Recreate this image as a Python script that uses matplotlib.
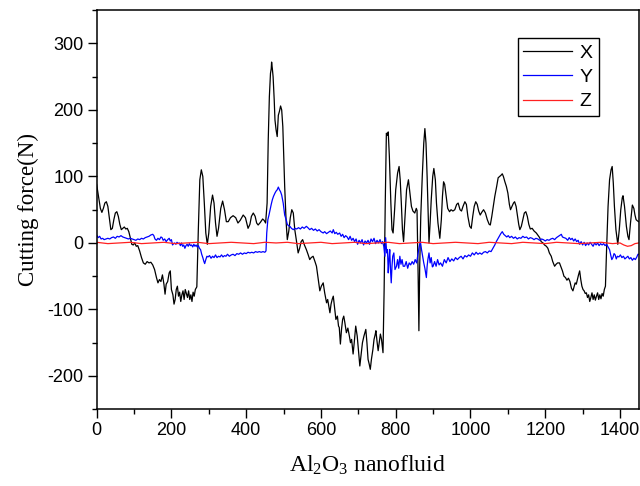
"""Cutting force components (X, Y, Z) for Al2O3 nanofluid."""

import matplotlib

matplotlib.use("Agg")
import matplotlib.pyplot as plt
from matplotlib.ticker import MultipleLocator

# --- data ------------------------------------------------------------------
X_T = [0, 5, 10, 14, 18, 22, 26, 30, 34, 38, 42, 46, 50, 54, 58, 62, 66, 70, 74, 78,
       82, 86, 90, 94, 98, 102, 106, 110, 115, 120, 125, 130, 135, 140, 145, 150, 155,
       160, 164, 168, 172, 176, 180, 183, 186, 190, 194, 197, 200, 204, 207, 210, 213,
       216, 219, 222, 225, 228, 231, 234, 237, 240, 243, 246, 249, 252, 255, 258, 261,
       264, 268, 272, 276, 280, 284, 288, 292, 296, 300, 305, 310, 314, 318, 322, 326,
       332, 337, 342, 347, 352, 358, 365, 372, 378, 384, 392, 398, 405, 410, 414, 419,
       424, 428, 432, 438, 444, 448, 452, 456, 459, 462, 465, 467, 468, 470, 472, 475,
       477, 480, 483, 486, 489, 492, 495, 498, 503, 507, 510, 514, 518, 522, 526, 530,
       534, 539, 543, 547, 551, 555, 561, 566, 570, 574, 579, 584, 588, 592, 597, 601,
       606, 610, 615, 618, 621, 624, 627, 630, 633, 636, 640, 644, 647, 649, 652, 655,
       658, 661, 664, 668, 672, 676, 679, 682, 686, 689, 693, 697, 700, 704, 707, 711,
       715, 720, 723, 726, 729, 732, 735, 739, 742, 745, 747, 750, 753, 756, 759, 762,
       766, 769, 772, 775, 778, 780, 783, 787, 790, 793, 797, 800, 805, 809, 812, 815,
       818, 821, 825, 829, 834, 838, 842, 846, 851, 855, 857, 860, 862, 864, 867, 871,
       875, 878, 881, 884, 887, 889, 892, 895, 899, 902, 906, 909, 913, 918, 922, 925,
       928, 931, 935, 939, 944, 948, 953, 958, 963, 967, 972, 976, 980, 985, 989, 993,
       998, 1002, 1006, 1010, 1014, 1018, 1022, 1026, 1030, 1035, 1040, 1045, 1050,
       1053, 1057, 1061, 1065, 1070, 1074, 1078, 1082, 1085, 1088, 1092, 1096, 1100,
       1104, 1107, 1111, 1115, 1118, 1122, 1126, 1129, 1132, 1136, 1140, 1144, 1148,
       1152, 1156, 1160, 1165, 1170, 1176, 1180, 1185, 1189, 1194, 1198, 1203, 1207,
       1211, 1216, 1220, 1225, 1229, 1233, 1238, 1242, 1246, 1250, 1254, 1258, 1262,
       1266, 1270, 1274, 1277, 1280, 1283, 1286, 1289, 1292, 1295, 1298, 1301, 1304,
       1307, 1310, 1313, 1316, 1319, 1322, 1325, 1328, 1331, 1334, 1337, 1340, 1343,
       1346, 1349, 1352, 1355, 1358, 1361, 1364, 1368, 1372, 1376, 1379, 1382, 1385,
       1389, 1394, 1398, 1402, 1406, 1408, 1412, 1417, 1421, 1424, 1428, 1433, 1437,
       1440, 1443, 1447, 1450]
X_F = [88, 70, 52, 46, 52, 60, 62, 55, 38, 20, 22, 35, 45, 47, 40, 28, 20, 22, 24, 21,
       22, 17, 8, -2, -3, 0, -5, -4, -12, -22, -30, -32, -28, -30, -29, -33, -40,
       -52, -60, -55, -58, -48, -62, -77, -62, -58, -45, -42, -70, -78, -92, -85, -70,
       -65, -80, -74, -88, -78, -72, -85, -70, -76, -82, -72, -85, -78, -88, -74, -80,
       -70, -66, 20, 95, 110, 100, 60, 15, -2, 15, 55, 72, 60, 30, 10, 22,
       52, 63, 50, 32, 32, 38, 41, 38, 30, 34, 42, 38, 22, 28, 40, 45,
       40, 30, 27, 31, 36, 34, 30, 60, 155, 220, 255, 262, 272, 262, 250, 215,
       185, 170, 160, 192, 198, 206, 200, 175, 85, 30, 5, 18, 38, 50, 45, 20,
       5, -15, -8, 2, 5, -2, -10, -18, -25, -22, -20, -28, -35, -52, -72, -65,
       -60, -75, -90, -85, -95, -105, -92, -85, -80, -95, -115, -110, -125, -127, -152, -130,
       -115, -110, -120, -135, -128, -140, -150, -145, -167, -150, -125, -140, -160, -185, -170, -150,
       -140, -130, -150, -175, -182, -190, -175, -160, -145, -138, -132, -148, -162, -150, -137, -145,
       -165, -70, 60, 165, 162, 167, 130, 60, 20, 15, 50, 80, 105, 115, 95, 60,
       20, 2, 40, 80, 95, 75, 55, 48, 45, 52, 49, -50, -132, -40, 40, 100,
       150, 172, 150, 100, 40, 0, 30, 65, 100, 112, 95, 60, 30, 7, 35, 70,
       92, 88, 70, 52, 47, 50, 48, 50, 58, 60, 50, 48, 55, 62, 58, 40,
       25, 22, 40, 55, 62, 58, 48, 42, 46, 50, 45, 35, 28,
       27, 40, 55, 70, 85, 98, 100, 102, 104, 100, 92, 85, 75,
       58, 50, 55, 60, 62, 55, 40, 28, 20, 25, 35, 45, 47,
       40, 28, 21, 22, 18, 15, 12, 8, 2, 0, -3, -5, -8,
       -15, -20, -28, -35, -32, -30, -30, -36, -42, -50, -52, -56, -53,
       -58, -68, -72, -66, -60, -62, -55, -48, -42, -55, -65, -70, -72,
       -76, -75, -82, -78, -88, -82, -75, -85, -78, -86, -80, -75, -85,
       -78, -84, -76, -80, -70, -65, -10, 55, 95, 110, 115, 90, 55,
       20, -2, 20, 50, 68, 71, 55, 25, 10, 5, 30, 57, 52,
       42, 35, 33, 32]

Y_T = [0, 4, 8, 12, 16, 20, 25, 30, 35, 40, 45, 50, 55, 60, 65, 70, 75, 80, 85, 90, 95,
       100, 105, 110, 115, 120, 125, 130, 135, 140, 145, 150, 153, 156, 160, 164, 168,
       172, 175, 178, 182, 186, 190, 194, 197, 200, 203, 206, 209, 212, 215, 218, 221,
       224, 227, 230, 233, 236, 239, 242, 245, 248, 251, 254, 257, 260, 263, 266, 269,
       272, 275, 278, 281, 284, 287, 289, 292, 295, 298, 302, 306, 310, 314, 318, 322,
       326, 330, 334, 338, 342, 346, 350, 355, 360, 365, 370, 375, 380, 385, 390, 395,
       400, 405, 410, 415, 420, 425, 430, 435, 440, 445, 450, 453, 455, 458, 461, 464,
       467, 470, 473, 477, 480, 483, 486, 489, 492, 495, 499, 503, 507, 510, 513, 517,
       521, 526, 530, 535, 540, 545, 550, 555, 561, 565, 570, 575, 580, 585, 590, 595,
       600, 606, 610, 615, 620, 625, 630, 633, 637, 641, 645, 650, 654, 658, 662, 666,
       670, 674, 678, 682, 686, 690, 694, 698, 702, 706, 710, 714, 718, 722, 726, 730,
       734, 738, 742, 746, 750, 754, 758, 762, 765, 768, 771, 773, 776, 778, 780, 782,
       784, 786, 788, 790, 792, 795, 798, 802, 805, 808, 811, 814, 817, 820, 824, 828,
       832, 836, 840, 844, 848, 852, 856, 860, 863, 866, 869, 872, 875, 878, 880, 882,
       884, 886, 889, 892, 895, 898, 900, 904, 908, 912, 916, 920, 925, 930, 935, 940,
       945, 950, 955, 960, 965, 970, 975, 980, 985, 990, 995, 1000, 1005, 1010, 1015,
       1020, 1025, 1030, 1035, 1040, 1045, 1050, 1055, 1060, 1065, 1069, 1073, 1077,
       1081, 1085, 1089, 1093, 1097, 1101, 1105, 1110, 1115, 1120, 1125, 1130, 1135,
       1140, 1145, 1150, 1155, 1160, 1165, 1170, 1175, 1180, 1185, 1190, 1195, 1200,
       1205, 1210, 1215, 1220, 1225, 1230, 1235, 1240, 1243, 1246, 1250, 1255, 1260,
       1264, 1268, 1272, 1276, 1280, 1284, 1288, 1292, 1296, 1300, 1304, 1308, 1312,
       1316, 1320, 1324, 1328, 1332, 1336, 1340, 1344, 1348, 1352, 1356, 1360, 1364,
       1368, 1372, 1375, 1378, 1381, 1384, 1387, 1390, 1393, 1397, 1401, 1405, 1409,
       1413, 1417, 1421, 1425, 1429, 1433, 1437, 1441, 1445, 1448, 1450]
Y_F = [12, 8, 10, 6, 7, 5, 6, 7, 6, 8, 9, 7, 10, 9, 11, 9, 8, 7, 6, 7, 6,
       5, 4, 6, 5, 7, 6, 8, 9, 10, 12, 13, 11, 6, 4, 7, 5,
       9, 8, 4, 6, 2, 5, 7, 3, 5, -3, -1, 0, -2, 1, -1, 0,
       -4, 0, -5, -3, -8, -4, -2, -5, -1, -4, -3, -6, -2, -5, -3, -6,
       -4, -8, -10, -17, -22, -28, -31, -25, -20, -21, -19, -23, -20, -22, -18, -22,
       -20, -21, -18, -21, -19, -20, -17, -20, -18, -17, -19, -16, -17, -15, -17, -15,
       -16, -14, -15, -14, -15, -13, -14, -13, -14, -13, -14, -12, 15, 35, 42, 50,
       58, 65, 70, 75, 78, 80, 84, 80, 77, 72, 60, 42, 35, 28, 26, 25,
       22, 20, 22, 21, 23, 21, 24, 22, 25, 23, 20, 22, 19, 21, 18, 20,
       17, 15, 17, 14, 16, 18, 15, 20, 14, 16, 13, 15, 10, 13, 8, 11,
       9, 5, 10, 4, 7, 2, 6, -2, 4, 0, 5, -3, 3, 0, 4, -2,
       6, 2, 7, -1, 4, 0, 5, -1, 2, -5, -20, 8, -15, -10, -45, -25,
       -10, -40, -60, -35, -20, -15, -40, -35, -25, -38, -20, -32, -25, -35, -35, -28,
       -38, -30, -33, -28, -32, -25, -30, -15, -5, 2, -10, -20, -30, -38, -45, -52,
       -35, -25, -15, -30, -22, -36, -35, -28, -35, -25, -33, -30, -35, -25, -30, -22,
       -28, -24, -27, -22, -25, -22, -20, -24, -19, -21, -18, -20, -15, -18, -14,
       -17, -15, -17, -14, -13, -15, -12, -13, -8, -3, 2, 6, 10,
       14, 17, 13, 11, 9, 11, 8, 10, 7, 9, 6, 8, 7,
       10, 8, 9, 6, 8, 7, 5, 7, 6, 4, 6, 5, 3,
       5, 4, 6, 7, 5, 8, 10, 12, 13, 9, 8, 7, 4,
       8, 5, 7, 3, 6, 2, 4, -2, 2, -3, 1, -4, 0,
       -3, 1, -2, -5, 0, -3, 0, -4, -1, -3, -1, -4, -2,
       -6, -10, -18, -25, -22, -16, -18, -24, -20, -21, -18, -22, -20,
       -24, -22, -20, -24, -22, -26, -23, -25, -21, -17, -17]

Z_T = [0, 30, 60, 90, 120, 150, 180, 210, 240, 270, 300, 330, 360, 390, 420, 450,
       480, 510, 540, 570, 600, 630, 660, 690, 720, 750, 780, 810, 840, 870, 900,
       930, 960, 990, 1020, 1050, 1080, 1110, 1140, 1170, 1200, 1230, 1260, 1290,
       1320, 1350, 1380, 1400, 1410, 1420, 1430, 1440, 1450]
Z_F = [1, -1, 0, 1, -1, 0, 1, -1, 0, 1, -1, 0, 1, 0, -1, 1,
       0, 1, -1, 0, 1, -1, 0, 1, -1, 0, 1, -1, 0, 1, -1,
       0, 1, 0, -1, 1, 0, -1, 1, 0, -1, 1, 0, -1,
       0, 1, -1, 0, -3, -5, -4, -1, 0]


def main() -> None:
    fig = plt.figure(figsize=(6.4, 4.86), dpi=100)
    ax = fig.add_axes([0.151, 0.158, 0.847, 0.821])

    ax.plot(X_T, X_F, color="black", lw=0.9, label="X")
    ax.plot(Y_T, Y_F, color="#0000ff", lw=0.9, label="Y")
    ax.plot(Z_T, Z_F, color="#ff2020", lw=0.9, label="Z")

    ax.set_xlim(0, 1450)
    ax.set_ylim(-250, 350)
    ax.xaxis.set_major_locator(MultipleLocator(200))
    ax.xaxis.set_minor_locator(MultipleLocator(100))
    ax.yaxis.set_major_locator(MultipleLocator(100))
    ax.yaxis.set_minor_locator(MultipleLocator(50))
    ax.tick_params(which="both", direction="out", labelsize=13, width=1, pad=3)
    ax.tick_params(which="major", length=6.5)
    ax.tick_params(which="minor", length=3.6)
    for s in ax.spines.values():
        s.set_linewidth(1.1)

    serif = ["Liberation Serif", "DejaVu Serif"]
    ax.set_xlabel(r"Al$_2$O$_3$ nanofluid", fontsize=17, family=serif,
                  labelpad=10)
    ax.set_ylabel("Cutting force(N)", fontsize=16.5, family=serif, labelpad=6)

    ax.legend(loc="upper right", bbox_to_anchor=(0.926, 0.930), borderaxespad=0,
              fontsize=14, fancybox=False, edgecolor="black", framealpha=1,
              handlelength=2.5, labelspacing=0.35, handletextpad=0.4,
              borderpad=0.3)

    fig.savefig("out.png", dpi=100)
    plt.close(fig)


if __name__ == "__main__":
    plt.rcParams["font.family"] = ["Liberation Sans", "DejaVu Sans"]
    plt.rcParams["axes.unicode_minus"] = False
    plt.rcParams["mathtext.fontset"] = "custom"
    plt.rcParams["mathtext.rm"] = "Liberation Serif"
    plt.rcParams["mathtext.it"] = "Liberation Serif:italic"
    main()
